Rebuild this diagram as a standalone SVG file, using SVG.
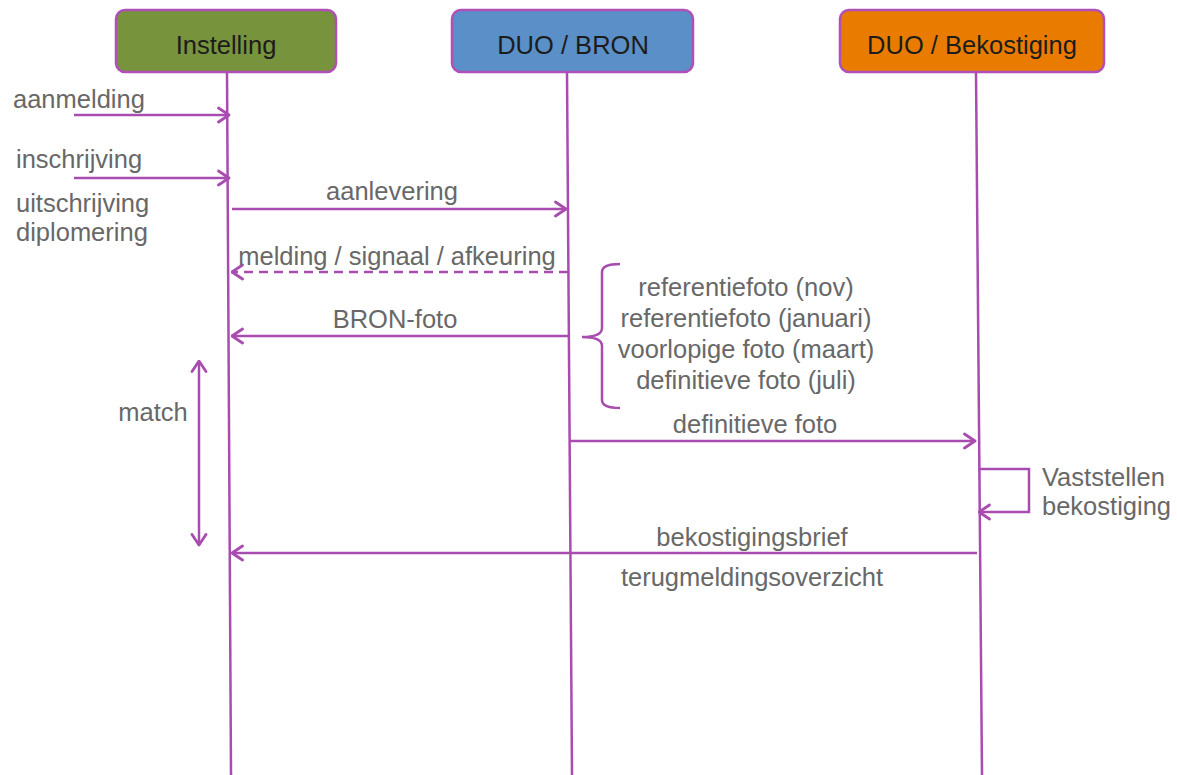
<svg xmlns="http://www.w3.org/2000/svg" width="1177" height="775" viewBox="0 0 1177 775">
<style>
.box{stroke:#B04FB8;stroke-width:2.5}
.bt{font-family:"Liberation Sans",Arial,sans-serif;font-size:25.5px;fill:#1c1c1c;text-anchor:middle}
.t{font-family:"Liberation Sans",Arial,sans-serif;font-size:25.5px;fill:#686868}
.m{text-anchor:middle}
.ln{stroke:#A94CB0;stroke-width:2.5;fill:none}
.ar{marker-end:url(#ah)}
</style>
<defs>
<marker id="ah" viewBox="0 0 14 18" refX="12.5" refY="9" markerWidth="14" markerHeight="18" orient="auto-start-reverse" markerUnits="userSpaceOnUse">
<path d="M2,2 L12.5,9 L2,16" fill="none" stroke="#A94CB0" stroke-width="2.8" stroke-linecap="round" stroke-linejoin="round"/>
</marker>
</defs>
<rect width="1177" height="775" fill="#ffffff"/>
<g id="node-instelling">
<rect class="box" x="116" y="10" width="220" height="62" rx="9" fill="#77933C"/>
<text class="bt" x="226" y="54">Instelling</text>
</g>
<g id="node-duo-bron">
<rect class="box" x="452" y="10" width="241" height="62" rx="9" fill="#5A8FC7"/>
<text class="bt" x="573" y="54">DUO / BRON</text>
</g>
<g id="node-duo-bekostiging">
<rect class="box" x="840" y="10" width="264" height="62" rx="9" fill="#E97C00"/>
<text class="bt" x="972" y="54">DUO / Bekostiging</text>
</g>
<g id="connectors">
<line class="ln" x1="227" y1="72" x2="231" y2="775"/>
<line class="ln" x1="567" y1="72" x2="572" y2="775"/>
<line class="ln" x1="976" y1="72" x2="982" y2="775"/>
<line class="ln ar" x1="74" y1="115" x2="229" y2="115"/>
<line class="ln ar" x1="74" y1="178" x2="229" y2="178"/>
<line class="ln ar" x1="232" y1="209" x2="566" y2="209"/>
<line class="ln ar" x1="568" y1="272" x2="232" y2="272" stroke-dasharray="9,6"/>
<line class="ln ar" x1="568" y1="336" x2="232" y2="336"/>
<line class="ln ar" x1="569" y1="441" x2="975" y2="441"/>
<polyline class="ln ar" points="978,469 1029,469 1029,512 979,512"/>
<line class="ln ar" x1="977" y1="553" x2="232" y2="553"/>
<line class="ln ar" x1="199" y1="361" x2="199" y2="545" marker-start="url(#ah)"/>
<path class="ln" d="M620,264 Q602,264 602,272 L602,328 Q602,337 582,337 Q602,337 602,346 L602,400 Q602,408 620,408"/>
</g>
<g id="labels">
<text class="t" x="13" y="108">aanmelding</text>
<text class="t" x="16" y="168">inschrijving</text>
<text class="t" x="16" y="212">uitschrijving</text>
<text class="t" x="16" y="241">diplomering</text>
<text class="t m" x="392" y="200">aanlevering</text>
<text class="t m" x="397" y="265">melding / signaal / afkeuring</text>
<text class="t m" x="395" y="328">BRON-foto</text>
<text class="t m" x="746" y="296">referentiefoto (nov)</text>
<text class="t m" x="746" y="327">referentiefoto (januari)</text>
<text class="t m" x="746" y="358">voorlopige foto (maart)</text>
<text class="t m" x="746" y="389">definitieve foto (juli)</text>
<text class="t m" x="755" y="433">definitieve foto</text>
<text class="t m" x="153" y="421">match</text>
<text class="t" x="1042" y="486">Vaststellen</text>
<text class="t" x="1042" y="515">bekostiging</text>
<text class="t m" x="752" y="546">bekostigingsbrief</text>
<text class="t m" x="752" y="586">terugmeldingsoverzicht</text>
</g>
</svg>
